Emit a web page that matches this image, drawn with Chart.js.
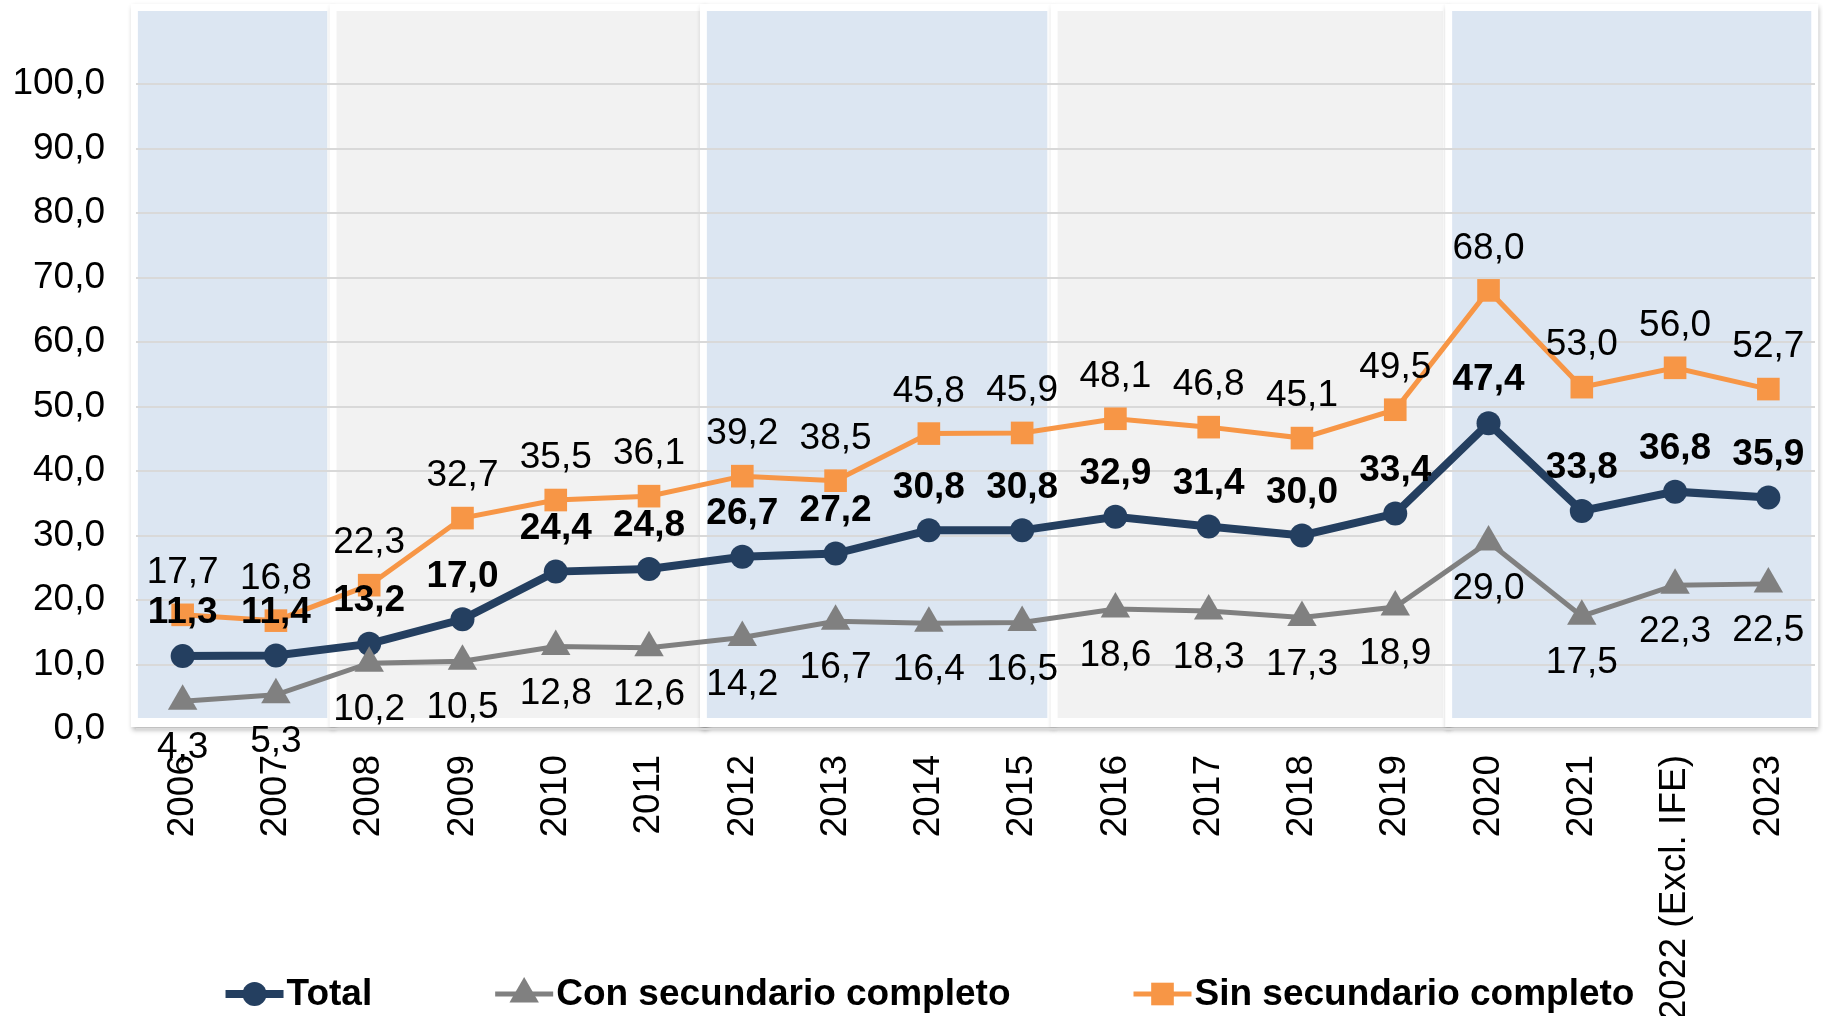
<!DOCTYPE html>
<html>
<head>
<meta charset="utf-8">
<script src="https://cdn.jsdelivr.net/npm/chart.js@4.4.0/dist/chart.umd.min.js"></script>
<style>
  html, body { margin: 0; padding: 0; background: #fff; }
  canvas { display: block; }
</style>
</head>
<body>
<canvas id="grafico" width="1823" height="1016"></canvas>
<script>
// datos
const anos = ["2006", "2007", "2008", "2009", "2010", "2011", "2012", "2013", "2014",
  "2015", "2016", "2017", "2018", "2019", "2020", "2021", "2022 (Excl. IFE)", "2023"];
const total = [11.3, 11.4, 13.2, 17.0, 24.4, 24.8, 26.7, 27.2, 30.8, 30.8, 32.9, 31.4, 30.0, 33.4, 47.4, 33.8, 36.8, 35.9];
const conSecundario = [4.3, 5.3, 10.2, 10.5, 12.8, 12.6, 14.2, 16.7, 16.4, 16.5, 18.6, 18.3, 17.3, 18.9, 29.0, 17.5, 22.3, 22.5];
const sinSecundario = [17.7, 16.8, 22.3, 32.7, 35.5, 36.1, 39.2, 38.5, 45.8, 45.9, 48.1, 46.8, 45.1, 49.5, 68.0, 53.0, 56.0, 52.7];
const ticksY = [0, 10, 20, 30, 40, 50, 60, 70, 80, 90, 100];

// bandas de fondo (en unidades de categoria)
const bandas = [
  { desde: -0.48, hasta: 1.55, color: "#DCE6F2" },
  { desde: 1.65, hasta: 5.56, color: "#F2F2F2" },
  { desde: 5.62, hasta: 9.27, color: "#DCE6F2" },
  { desde: 9.38, hasta: 13.51, color: "#F2F2F2" },
  { desde: 13.61, hasta: 17.46, color: "#DCE6F2" }
];

const FUENTE = "'Liberation Sans', Arial, sans-serif";
const coma = v => v.toFixed(1).replace(".", ",");

// fondo con bandas
const pluginFondo = {
  id: "fondo",
  beforeDraw(chart) {
    const { ctx, scales: { x, y } } = chart;
    const x0 = x.getPixelForValue(0);
    const paso = x.getPixelForValue(1) - x0;
    const arriba = 11;
    const abajo = y.getPixelForValue(0) - 11;
    bandas.forEach(b => {
      const x1 = x0 + b.desde * paso;
      const x2 = x0 + b.hasta * paso;
      ctx.save();
      ctx.shadowColor = "rgba(0,0,0,0.30)";
      ctx.shadowBlur = 5;
      ctx.shadowOffsetX = 1;
      ctx.shadowOffsetY = 3;
      ctx.fillStyle = "#fff";
      ctx.fillRect(x1 - 7, arriba - 7, x2 - x1 + 14, abajo - arriba + 16);
      ctx.restore();
      ctx.fillStyle = b.color;
      ctx.fillRect(x1, arriba, x2 - x1, abajo - arriba);
    });
  }
};

// etiquetas de valores
const pluginEtiquetas = {
  id: "etiquetas",
  afterDatasetsDraw(chart) {
    const { ctx } = chart;
    ctx.save();
    ctx.textAlign = "center";
    ctx.textBaseline = "middle";
    ctx.fillStyle = "#000";
    chart.data.datasets.forEach((ds, i) => {
      ctx.font = ds.etiqueta.fuente;
      chart.getDatasetMeta(i).data.forEach((p, j) => {
        ctx.fillText(coma(ds.data[j]), p.x, p.y + ds.etiqueta.dy);
      });
    });
    ctx.restore();
  }
};

// marcador
function marcador(ctx, estilo, cx, cy, r, color) {
  ctx.fillStyle = color;
  ctx.beginPath();
  if (estilo === "circle") {
    ctx.arc(cx, cy, r, 0, Math.PI * 2);
  } else if (estilo === "triangle") {
    ctx.moveTo(cx, cy - r);
    ctx.lineTo(cx + r * Math.sin(Math.PI * 2 / 3), cy - r * Math.cos(Math.PI * 2 / 3));
    ctx.lineTo(cx - r * Math.sin(Math.PI * 2 / 3), cy - r * Math.cos(Math.PI * 2 / 3));
    ctx.closePath();
  } else {
    const s = r * Math.SQRT1_2;
    ctx.rect(cx - s, cy - s, 2 * s, 2 * s);
  }
  ctx.fill();
}

// leyenda propia (se superpone a la etiqueta larga del eje)
const pluginLeyenda = {
  id: "leyenda",
  afterDraw(chart) {
    const { ctx } = chart;
    const ancho = 58, sep = 3, entre = 123, yL = 994, centro = 930;
    ctx.save();
    ctx.font = "bold 37px " + FUENTE;
    ctx.textBaseline = "middle";
    ctx.textAlign = "left";
    const items = [0, 1, 2].map(i => {
      const ds = chart.data.datasets[i];
      return { ds, w: ancho + sep + ctx.measureText(ds.label).width };
    });
    const totalW = items.reduce((a, it) => a + it.w, 0) + entre * (items.length - 1);
    let xL = centro - totalW / 2;
    items.forEach(({ ds, w }) => {
      ctx.strokeStyle = ds.borderColor;
      ctx.lineWidth = ds.borderWidth;
      ctx.beginPath();
      ctx.moveTo(xL, yL);
      ctx.lineTo(xL + ancho, yL);
      ctx.stroke();
      marcador(ctx, ds.pointStyle, xL + ancho / 2, yL, ds.pointRadius, ds.borderColor);
      ctx.fillStyle = "#000";
      ctx.fillText(ds.label, xL + ancho + sep, yL + 1);
      xL += w + entre;
    });
    ctx.restore();
  }
};

new Chart(document.getElementById("grafico"), {
  type: "line",
  data: {
    labels: anos,
    datasets: [
      {
        label: "Total",
        data: total,
        borderColor: "#243F60",
        backgroundColor: "#243F60",
        borderWidth: 8,
        pointStyle: "circle",
        pointRadius: 12,
        pointBorderWidth: 0,
        order: 1,
        etiqueta: { fuente: "bold 37px " + FUENTE, dy: -43 }
      },
      {
        label: "Con secundario completo",
        data: conSecundario,
        borderColor: "#808080",
        backgroundColor: "#808080",
        borderWidth: 5,
        pointStyle: "triangle",
        pointRadius: 17,
        pointBorderWidth: 0,
        order: 0,
        etiqueta: { fuente: "37px " + FUENTE, dy: 47 }
      },
      {
        label: "Sin secundario completo",
        data: sinSecundario,
        borderColor: "#F79646",
        backgroundColor: "#F79646",
        borderWidth: 5,
        pointStyle: "rect",
        pointRadius: 16,
        pointBorderWidth: 0,
        order: 2,
        etiqueta: { fuente: "37px " + FUENTE, dy: -42 }
      }
    ]
  },
  options: {
    responsive: false,
    animation: false,
    layout: { autoPadding: false, padding: { top: 84, right: 8, bottom: 0, left: 0 } },
    plugins: {
      legend: { display: false },
      tooltip: { enabled: false }
    },
    elements: { line: { tension: 0 } },
    scales: {
      x: {
        offset: true,
        grid: { display: false, drawTicks: false },
        border: { display: false },
        ticks: {
          color: "#000",
          font: { family: FUENTE, size: 37 },
          minRotation: 90,
          maxRotation: 90,
          autoSkip: false,
          padding: 26
        },
        afterFit(s) {
          s.height = 287;
          s.paddingLeft = 0;
          s.paddingRight = 0;
        }
      },
      y: {
        min: 0,
        max: 100,
        grid: { color: "#D9D9D9", lineWidth: 2, drawTicks: false },
        border: { display: false },
        ticks: {
          color: "#000",
          font: { family: FUENTE, size: 37 },
          padding: 31,
          callback: v => coma(v)
        },
        afterBuildTicks(s) { s.ticks = ticksY.map(v => ({ value: v })); },
        afterFit(s) { s.width = 136; }
      }
    }
  },
  plugins: [pluginFondo, pluginEtiquetas, pluginLeyenda]
});
</script>
</body>
</html>
